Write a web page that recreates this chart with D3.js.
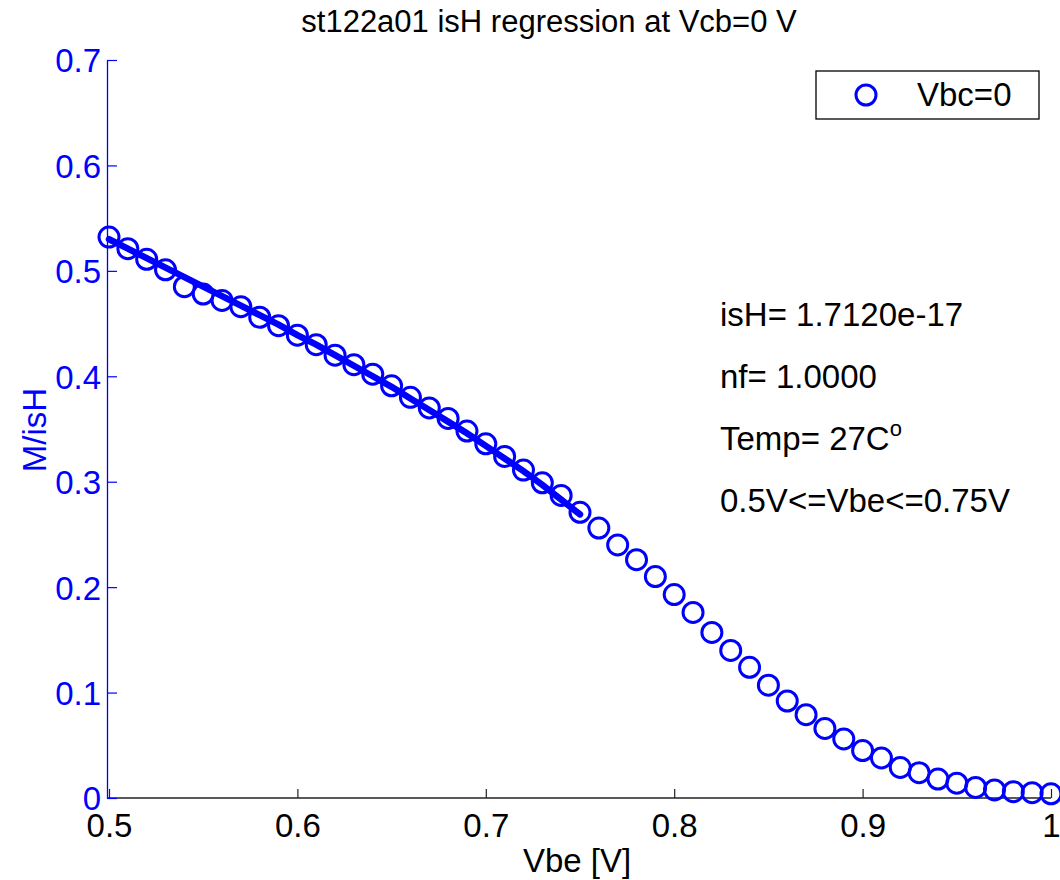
<!DOCTYPE html>
<html>
<head>
<meta charset="utf-8">
<script src="https://cdn.jsdelivr.net/npm/d3@7"></script>
<style>
  body { margin: 0; background: #fff; }
  svg { display: block; font-family: "Liberation Sans", Arial, sans-serif; }
</style>
</head>
<body>
<div id="chart"></div>
<script>
// measured points, Vbe in volts
const vbe = [0.50, 0.51, 0.52, 0.53, 0.54, 0.55, 0.56, 0.57, 0.58, 0.59,
             0.60, 0.61, 0.62, 0.63, 0.64, 0.65, 0.66, 0.67, 0.68, 0.69,
             0.70, 0.71, 0.72, 0.73, 0.74, 0.75, 0.76, 0.77, 0.78, 0.79,
             0.80, 0.81, 0.82, 0.83, 0.84, 0.85, 0.86, 0.87, 0.88, 0.89,
             0.90, 0.91, 0.92, 0.93, 0.94, 0.95, 0.96, 0.97, 0.98, 0.99, 1.00];
const mIsH = [0.532, 0.521, 0.511, 0.501, 0.485, 0.478, 0.472, 0.466, 0.456, 0.448,
              0.439, 0.430, 0.420, 0.411, 0.402, 0.391, 0.380, 0.370, 0.360, 0.348,
              0.336, 0.324, 0.311, 0.299, 0.287, 0.271, 0.256, 0.240, 0.226, 0.210,
              0.193, 0.176, 0.157, 0.140, 0.124, 0.107, 0.092, 0.079, 0.066, 0.056,
              0.045, 0.038, 0.029, 0.024, 0.018, 0.014, 0.010, 0.0076, 0.006, 0.005, 0.004];

// regression line over the fit window
const fitVbe = [0.50, 0.51, 0.52, 0.53, 0.54, 0.55, 0.56, 0.57, 0.58, 0.59,
                0.60, 0.61, 0.62, 0.63, 0.64, 0.65, 0.66, 0.67, 0.68, 0.69,
                0.70, 0.71, 0.72, 0.73, 0.74, 0.75];
const fitVals = [0.530, 0.521, 0.512, 0.503, 0.494, 0.485, 0.476, 0.467, 0.458, 0.449,
                 0.439, 0.430, 0.420, 0.410, 0.400, 0.390, 0.379, 0.368, 0.357, 0.346,
                 0.334, 0.322, 0.310, 0.297, 0.283, 0.269];

const xTicks = [0.5, 0.6, 0.7, 0.8, 0.9, 1];
const yTicks = [0, 0.1, 0.2, 0.3, 0.4, 0.5, 0.6, 0.7];

const notes = ["isH= 1.7120e-17", "nf= 1.0000", "Temp= 27C", "0.5V<=Vbe<=0.75V"];

const blue = "#0000ff";
const width = 1060, height = 880;

const x = d3.scaleLinear().domain([0.5, 1]).range([109, 1051]);
const y = d3.scaleLinear().domain([0, 0.7]).range([798, 60]);

const svg = d3.select("#chart")
    .append("svg")
    .attr("width", width)
    .attr("height", height);

// x axis (black, ticks inward)
const xAxis = svg.append("g")
    .attr("transform", "translate(0,798)")
    .call(d3.axisBottom(x).tickValues(xTicks).tickSizeInner(-9).tickSizeOuter(0)
        .tickFormat(d => d === 1 ? "1" : d3.format(".1f")(d)));
xAxis.select(".domain").attr("stroke", "#222").attr("stroke-width", 1.3).attr("d", "M107,0H1051");
xAxis.selectAll(".tick line").attr("stroke", "#222").attr("stroke-width", 1.2);
xAxis.selectAll(".tick text")
    .attr("fill", "#000").attr("font-size", 33).attr("y", 39).attr("dy", 0);

// y axis (blue, ticks inward)
const yAxis = svg.append("g")
    .attr("transform", "translate(107,0)")
    .call(d3.axisLeft(y).tickValues(yTicks).tickSizeInner(-10).tickSizeOuter(0)
        .tickFormat(d => d === 0 ? "0" : d3.format(".1f")(d)));
yAxis.select(".domain").attr("stroke", blue).attr("stroke-width", 1.3);
yAxis.selectAll(".tick line").attr("stroke", blue).attr("stroke-width", 1.2);
yAxis.selectAll(".tick text")
    .attr("fill", blue).attr("font-size", 33).attr("x", -6).attr("dy", "0.36em");

// fit line
const line = d3.line().x(d => x(d[0])).y(d => y(d[1]));
svg.append("path")
    .datum(d3.zip(fitVbe, fitVals))
    .attr("d", line)
    .attr("fill", "none")
    .attr("stroke", blue)
    .attr("stroke-width", 6.5)
    .attr("stroke-linecap", "round");

// measured circles
svg.append("g")
    .selectAll("circle")
    .data(d3.zip(vbe, mIsH))
    .join("circle")
    .attr("cx", d => x(d[0]))
    .attr("cy", d => y(d[1]))
    .attr("r", 10)
    .attr("fill", "none")
    .attr("stroke", blue)
    .attr("stroke-width", 3);

// title and labels
svg.append("text")
    .attr("x", 549).attr("y", 32)
    .attr("text-anchor", "middle")
    .attr("font-size", 31)
    .text("st122a01 isH regression at Vcb=0 V");

svg.append("text")
    .attr("x", 577).attr("y", 872)
    .attr("text-anchor", "middle")
    .attr("font-size", 33)
    .text("Vbe [V]");

svg.append("text")
    .attr("transform", "translate(46,430) rotate(-90)")
    .attr("text-anchor", "middle")
    .attr("font-size", 33)
    .attr("fill", blue)
    .text("M/isH");

// annotations
const noteG = svg.append("g");
notes.forEach((t, i) => {
    const txt = noteG.append("text")
        .attr("x", 720).attr("y", 326 + i * 62)
        .attr("font-size", 33)
        .text(t);
    if (t.startsWith("Temp")) {
        txt.append("tspan").attr("dy", -14).attr("font-size", 22).text("o");
    }
});

// legend
const leg = svg.append("g");
leg.append("rect")
    .attr("x", 816).attr("y", 71)
    .attr("width", 223).attr("height", 48)
    .attr("fill", "#fff")
    .attr("stroke", "#000")
    .attr("stroke-width", 1.3);
leg.append("circle")
    .attr("cx", 866).attr("cy", 95).attr("r", 10)
    .attr("fill", "none").attr("stroke", blue).attr("stroke-width", 3);
leg.append("text")
    .attr("x", 917).attr("y", 106)
    .attr("font-size", 33)
    .text("Vbc=0");
</script>
</body>
</html>
